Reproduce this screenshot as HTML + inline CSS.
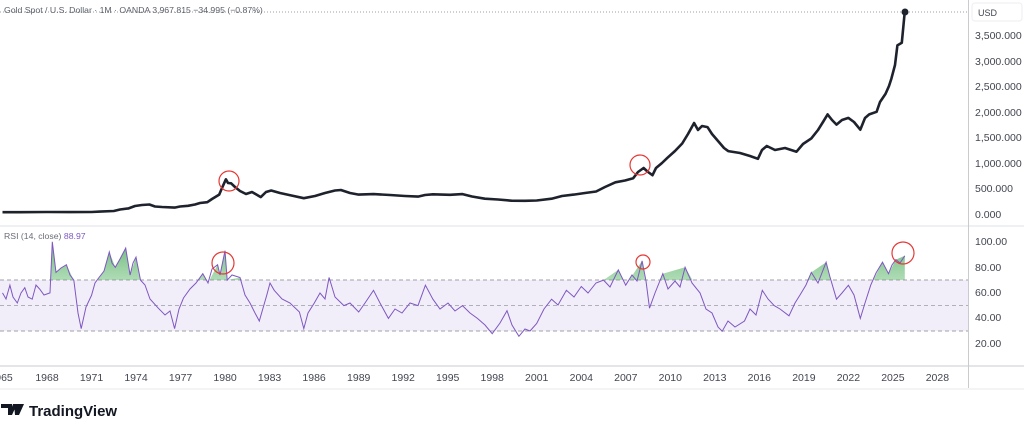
<!DOCTYPE html>
<html><head><meta charset="utf-8"><style>
html,body{margin:0;padding:0;background:#fff;width:1024px;height:430px;overflow:hidden;font-family:"Liberation Sans",sans-serif}
svg text{font-family:"Liberation Sans",sans-serif}
</style></head><body>
<svg width="1024" height="430" viewBox="0 0 1024 430" xmlns="http://www.w3.org/2000/svg">
<defs>
<linearGradient id="g" x1="0" y1="0" x2="0" y2="1"><stop offset="0" stop-color="#3aa04a" stop-opacity="0.75"/><stop offset="1" stop-color="#7ccf85" stop-opacity="0.05"/></linearGradient>
<clipPath id="above"><rect x="0" y="213" width="968" height="54"/></clipPath>
</defs>
<rect x="0" y="0" width="1024" height="430" fill="#fff"/>
<line x1="0" y1="12" x2="968" y2="12" stroke="#9aa0a8" stroke-dasharray="1,2" stroke-width="1"/>
<rect x="0" y="280" width="968" height="51" fill="#7e57c2" fill-opacity="0.1"/>
<line x1="0" y1="280" x2="968" y2="280" stroke="#a0a0a8" stroke-dasharray="4,3"/>
<line x1="0" y1="305.5" x2="968" y2="305.5" stroke="#b0b0b8" stroke-dasharray="4,3"/>
<line x1="0" y1="331" x2="968" y2="331" stroke="#a0a0a8" stroke-dasharray="4,3"/>
<rect x="0" y="225" width="1024" height="2" fill="#eef0f3"/>
<line x1="0" y1="366" x2="1024" y2="366" stroke="#c8cbd0"/>
<line x1="968.5" y1="0" x2="968.5" y2="388" stroke="#c8cbd0"/>
<rect x="0" y="388" width="1024" height="2" fill="#f3f4f6"/>

<g transform="translate(0,13)">
<path clip-path="url(#above)" fill="url(#g)" d="M2.5,267 L2.5,279.9 L9.9,272.2 L17.3,290 L24.8,274.7 L32.2,286.2 L39.6,276 L50,279.9 L52.3,228.8 L56,259.4 L61,255 L66.4,251.7 L73.8,267.1 L81.2,315.6 L91.5,282.4 L99,264.5 L104,258 L109.3,239 L115.3,254.3 L120,246 L125.7,235.1 L130.1,262 L136,244.1 L140.5,267.1 L158.3,295.2 L174.6,315.6 L183.5,285 L202.8,260.7 L208,270 L217.6,251.7 L220,262 L225,237.7 L227.2,267.1 L240,264.5 L259.3,308 L266.7,282.4 L274.2,277.3 L299.4,299 L303.8,315.6 L314.3,290 L329.1,264.5 L343.9,292.6 L358.7,299 L373.5,277.3 L388.4,305.4 L418,292.6 L425.4,272.2 L432.9,286.2 L462.5,292.6 L477.4,305.4 L492.2,320.7 L507,297.7 L518.9,323.3 L536.7,310.5 L551.6,286.2 L566.4,277.3 L581.3,273.5 L603.5,267.1 L618.3,256.9 L625.7,272.2 L642.1,247.9 L649.5,295.2 L662.8,260.7 L685.1,254.3 L700,279.9 L722.2,318.2 L744.5,308 L762.3,277.3 L774.2,292.6 L789,302.8 L811.3,259.4 L826.1,249.2 L836.5,286.2 L848.4,272.2 L860.3,305.4 L870.7,272.2 L882.5,249.2 L888.5,260.7 L895.9,246.6 L904.8,242.8 L904.8,267 Z"/>

<path fill="none" stroke="#7e57c2" stroke-width="1" d="M2.5,279.9 L6,286 L9.9,272.2 L13,284 L17.3,290 L21,280 L24.8,274.7 L28,284 L32.2,286.2 L36,272 L39.6,276 L44,282 L50,279.9 L52.3,228.8 L56,259.4 L61,255 L66.4,251.7 L70,262 L73.8,267.1 L78,300 L81.2,315.6 L86,294 L91.5,282.4 L95,270 L99,264.5 L104,258 L109.3,239 L112,250 L115.3,254.3 L120,246 L125.7,235.1 L130.1,262 L133,250 L136,244.1 L140.5,267.1 L145,272 L150,286 L158.3,295.2 L165,302 L170,298 L174.6,315.6 L179,296 L183.5,285 L190,276 L196,270 L202.8,260.7 L208,270 L212,256 L217.6,251.7 L220,262 L225,237.7 L227.2,267.1 L232,262 L240,264.5 L245,282 L250,290 L255,300 L259.3,308 L266.7,282.4 L270,270 L274.2,277.3 L282,286 L290,290 L299.4,299 L303.8,315.6 L308,300 L314.3,290 L320,280 L325,286 L329.1,264.5 L335,284 L343.9,292.6 L350,290 L358.7,299 L365,290 L373.5,277.3 L380,290 L388.4,305.4 L395,296 L402,300 L410,290 L418,292.6 L425.4,272.2 L432.9,286.2 L440,296 L448,290 L455,298 L462.5,292.6 L470,300 L477.4,305.4 L485,312 L492.2,320.7 L500,310 L507,297.7 L512,312 L518.9,323.3 L525,316 L530,318 L536.7,310.5 L544,296 L551.6,286.2 L558,292 L566.4,277.3 L574,284 L581.3,273.5 L588,280 L596,270 L603.5,267.1 L610,274 L618.3,256.9 L625.7,272.2 L632,262 L637,268 L642.1,247.9 L646,268 L649.5,295.2 L655,280 L662.8,260.7 L668,276 L675,268 L680,274 L685.1,254.3 L692,270 L700,279.9 L706,296 L712,300 L718,314 L722.2,318.2 L728,308 L735,314 L744.5,308 L750,296 L756,302 L762.3,277.3 L768,286 L774.2,292.6 L780,296 L789,302.8 L795,290 L800,282 L806,272 L811.3,259.4 L818,270 L826.1,249.2 L830,264 L836.5,286.2 L842,280 L848.4,272.2 L854,282 L860.3,305.4 L865,290 L870.7,272.2 L876,260 L882.5,249.2 L888.5,260.7 L892,252 L895.9,246.6 L900,250 L904.8,242.8"/>
</g>

<path fill="none" stroke="#1e222d" stroke-width="2.6" stroke-linejoin="round" d="M2.5,212.2 L20,212.2 L47,212 L70,212.1 L91.5,212 L100,211.6 L113.8,211 L120,209.5 L128.6,208.4 L135,206 L142,205 L149.4,204.5 L155,206.5 L162,207 L174.6,207.6 L180,206.5 L188,205.8 L195,204.5 L200,203 L207.3,202.2 L212,199 L219.2,194.6 L222,188 L225.9,179.3 L228,183 L231.1,183.3 L235,187 L240,191 L246,194 L252,192 L260.8,197.1 L266,192 L271.2,190.5 L280,193 L292,195.6 L303.8,198.2 L315,196 L325,193 L335,190.5 L340.9,190 L350,193 L358.7,194.6 L373.5,194.1 L390,195 L405,196 L418,196.6 L425,195 L432.9,194.3 L450,194.8 L462.5,194.1 L472,196.5 L484.8,198.7 L498,199.5 L511.5,200.7 L525,200.8 L536.7,200.5 L551.6,198.7 L562,196 L573.8,194.6 L585,193 L596.1,191.5 L605,187 L615.4,182.3 L625,180.5 L633.2,178.2 L638,172 L643.6,168 L648,172 L652.5,175.2 L656,168 L662,163 L667.4,157.8 L675,151 L682.2,143.5 L688,134 L694.1,123 L698,130 L702,126 L707.5,127.1 L712,134 L719.3,142.5 L724,148 L728.2,151.1 L740,153 L750,156 L757.9,158.8 L762,150 L766.8,146 L775,150 L785,148 L796.5,151.7 L803,144 L811.3,138.4 L818,130 L823,122 L827.6,114.4 L832,120 L836.5,124.6 L842,120 L848.4,117.9 L854,122 L860.3,129.7 L865,118 L869.2,114.4 L876.6,111.8 L880,102 L885.5,93.9 L889,86 L891.4,78.6 L895,65 L897.4,45.4 L901.8,42.8 L903.5,25 L904.8,11.3"/>
<circle cx="905" cy="12" r="3.5" fill="#1e222d"/>
<g fill="none" stroke="#e53935" stroke-width="1.2">
<circle cx="229" cy="181" r="10"/><circle cx="640" cy="165" r="10"/>
<circle cx="223" cy="263" r="11"/><circle cx="643" cy="262" r="7"/><circle cx="903" cy="253" r="11"/>
</g>
<rect x="972" y="3" width="50" height="18" rx="3" fill="#fff" stroke="#eceef1"/>
<text x="978" y="16" font-size="9" fill="#434651">USD</text>
<g font-size="10.5" fill="#434651">
<text x="975" y="39">3,500.000</text><text x="975" y="65">3,000.000</text><text x="975" y="90">2,500.000</text><text x="975" y="116">2,000.000</text><text x="975" y="141">1,500.000</text><text x="975" y="167">1,000.000</text><text x="975" y="192">500.000</text><text x="975" y="218">0.000</text>
<text x="975" y="245">100.00</text><text x="975" y="271">80.00</text><text x="975" y="296">60.00</text><text x="975" y="321">40.00</text><text x="975" y="347">20.00</text>
</g>
<g font-size="10.5" fill="#434651" text-anchor="middle">
<text x="4" y="381">965</text><text x="47" y="381">1968</text><text x="91.5" y="381">1971</text><text x="136" y="381">1974</text><text x="180.6" y="381">1977</text><text x="225.1" y="381">1980</text><text x="269.6" y="381">1983</text><text x="314.1" y="381">1986</text><text x="358.7" y="381">1989</text><text x="403.2" y="381">1992</text><text x="447.7" y="381">1995</text><text x="492.2" y="381">1998</text><text x="536.7" y="381">2001</text><text x="581.3" y="381">2004</text><text x="625.8" y="381">2007</text><text x="670.3" y="381">2010</text><text x="714.8" y="381">2013</text><text x="759.3" y="381">2016</text><text x="803.9" y="381">2019</text><text x="848.4" y="381">2022</text><text x="892.9" y="381">2025</text><text x="937.4" y="381">2028</text>
</g>
<text x="4" y="13" font-size="8.7" fill="#5d606b">Gold Spot / U.S. Dollar · 1M · OANDA  3,967.815  −34.995 (−0.87%)</text>
<text x="4" y="239" font-size="8.7" fill="#6a6d78">RSI (14, close) <tspan fill="#7e57c2">88.97</tspan></text>
<path d="M1,404 h11 v11 h-4 v-7 h-7z M13,404 h4 l-5,11 h-3z M14,404 h10 l-5,11 h-4z" fill="#131722"/>
<text x="29" y="416" font-size="15" font-weight="bold" fill="#131722">TradingView</text>
</svg>
</body></html>
